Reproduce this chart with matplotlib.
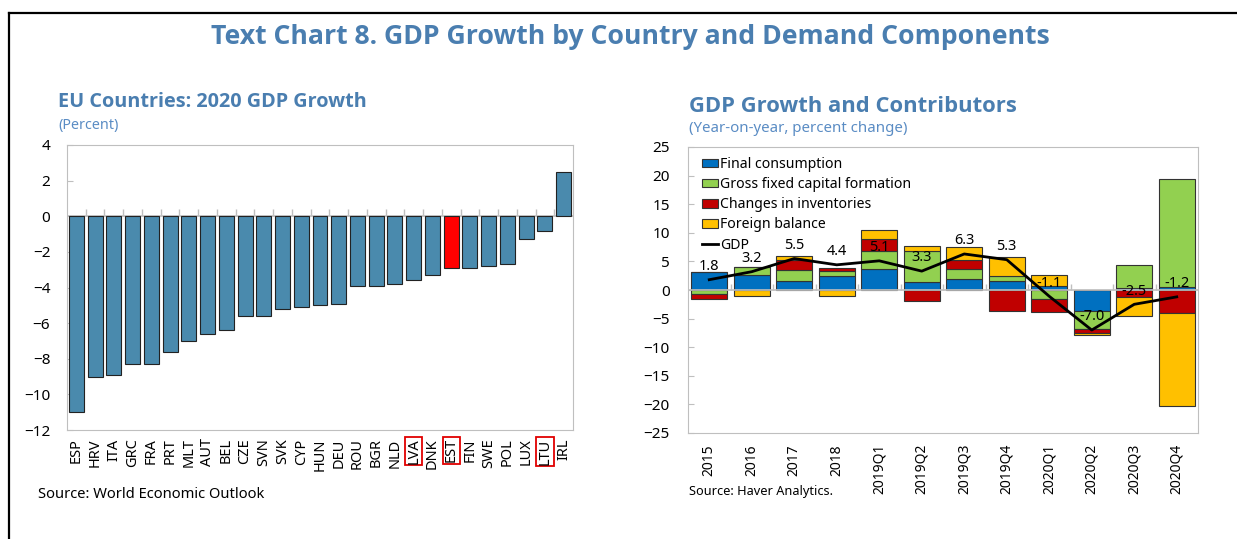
import numpy as np
import matplotlib
matplotlib.use("Agg")
import matplotlib.pyplot as plt
from matplotlib.lines import Line2D
from matplotlib.patches import Patch

plt.rcParams['font.family'] = ['Noto Sans', 'DejaVu Sans']
BOLD_FAMILY = ['Open Sans', 'DejaVu Sans']

# ---- data: left panel (2020 GDP growth, percent)
countries = ['ESP', 'HRV', 'ITA', 'GRC', 'FRA', 'PRT', 'MLT', 'AUT', 'BEL', 'CZE',
             'SVN', 'SVK', 'CYP', 'HUN', 'DEU', 'ROU', 'BGR', 'NLD', 'LVA', 'DNK',
             'EST', 'FIN', 'SWE', 'POL', 'LUX', 'LTU', 'IRL']
growth_2020 = [-11.0, -9.0, -8.9, -8.3, -8.3, -7.6, -7.0, -6.6, -6.4, -5.6,
               -5.6, -5.2, -5.1, -5.0, -4.9, -3.9, -3.9, -3.8, -3.6, -3.3,
               -2.9, -2.9, -2.8, -2.7, -1.3, -0.8, 2.5]
boxed = ['LVA', 'EST', 'LTU']
highlight = 'EST'

# ---- data: right panel (contributions, pp)
periods = ['2015', '2016', '2017', '2018', '2019Q1', '2019Q2', '2019Q3', '2019Q4',
           '2020Q1', '2020Q2', '2020Q3', '2020Q4']
final_consumption = [3.1, 2.7, 1.6, 2.4, 3.7, 1.4, 2.0, 1.6, 0.7, -3.7, 0.35, 0.45]
gross_fixed_capital = [-0.75, 1.4, 1.9, 0.9, 3.2, 5.5, 1.6, 0.9, -1.5, -3.1, 4.0, 18.9]
inventories = [-0.75, 0.0, 1.7, 0.6, 2.0, -2.0, 1.6, -3.7, -2.4, -0.7, -1.3, -4.0]
foreign_balance = [0.1, -1.05, 0.8, -1.05, 1.6, 0.75, 2.3, 3.3, 2.0, -0.3, -3.3, -16.2]
gdp = [1.8, 3.2, 5.5, 4.4, 5.1, 3.3, 6.3, 5.3, -1.1, -7.0, -2.5, -1.2]

components = [
    ('Final consumption', final_consumption, '#0070c0'),
    ('Gross fixed capital formation', gross_fixed_capital, '#92d050'),
    ('Changes in inventories', inventories, '#c00000'),
    ('Foreign balance', foreign_balance, '#ffc000'),
]

TITLE_BLUE = '#4a7eb0'
SUB_BLUE = '#5a8cc4'
FRAME_GREY = '#bfbfbf'

fig = plt.figure(figsize=(12.37, 5.39), dpi=100)
W, H = 1237, 539

def fx(px):
    return px / W

def fy(py):
    return 1 - py / H

# outer frame (top and left edges only)
fig.add_artist(Line2D([fx(9), 1.0], [fy(13), fy(13)], color='black', lw=1.6))
fig.add_artist(Line2D([fx(9), fx(9)], [fy(13), 0.0], color='black', lw=1.6))

fig.text(fx(630), fy(37), 'Text Chart 8. GDP Growth by Country and Demand Components',
         ha='center', va='center', fontsize=19.2, fontweight='bold', color=TITLE_BLUE,
         family=BOLD_FAMILY)

# ---------------- left panel
ax1 = fig.add_axes([fx(67), fy(430), fx(573 - 67), (430 - 145) / H])
x1 = np.arange(len(countries))
cols = ['#ff0000' if c == highlight else '#4a8aad' for c in countries]
ax1.bar(x1, growth_2020, width=0.8, color=cols, edgecolor='#222222', linewidth=0.8, zorder=2)
ax1.axhline(0, color=FRAME_GREY, lw=1.2, zorder=1)
ax1.plot(x1[:-1] + 0.5, np.zeros(len(x1) - 1), ls='none', marker=2, markersize=5,
         color=FRAME_GREY, zorder=1)
ax1.set_xlim(-0.5, len(countries) - 0.5)
ax1.set_ylim(-12, 4)
ax1.set_yticks(np.arange(-12, 5, 2))
ax1.set_xticks(x1)
ax1.set_xticklabels(countries, rotation=90, fontsize=10.5)
for lab in ax1.get_xticklabels():
    if lab.get_text() in boxed:
        lab.set_bbox(dict(facecolor='none', edgecolor='#e00000', linewidth=1.3, pad=0.8))
ax1.tick_params(axis='x', length=0, pad=6)
ax1.tick_params(axis='y', direction='in', length=4, color=FRAME_GREY, labelsize=11, pad=12)
for s in ax1.spines.values():
    s.set_color(FRAME_GREY)

fig.text(fx(58), fy(102), 'EU Countries: 2020 GDP Growth', ha='left', va='center',
         fontsize=14.3, fontweight='bold', color=TITLE_BLUE, family=BOLD_FAMILY)
fig.text(fx(58), fy(126), '(Percent)', ha='left', va='center', fontsize=10.3, color=SUB_BLUE)
fig.text(fx(38), fy(494), 'Source: World Economic Outlook', ha='left', va='center', fontsize=10.6)

# ---------------- right panel
ax2 = fig.add_axes([fx(688), fy(433), fx(1198 - 688), (433 - 147) / H])
x2 = np.arange(len(periods))
pos_base = np.zeros(len(periods))
neg_base = np.zeros(len(periods))
handles = []
for name, vals, col in components:
    v = np.array(vals)
    base = np.where(v >= 0, pos_base, neg_base)
    ax2.bar(x2, v, width=0.84, bottom=base, color=col, edgecolor='#333333', linewidth=0.8, zorder=2)
    pos_base = pos_base + np.where(v >= 0, v, 0)
    neg_base = neg_base + np.where(v < 0, v, 0)
    handles.append(Patch(facecolor=col, edgecolor='#333333', linewidth=0.8, label=name))
ax2.axhline(0, color=FRAME_GREY, lw=1.2, zorder=3)
ax2.plot(x2[:-1] + 0.5, np.zeros(len(x2) - 1), ls='none', marker=2, markersize=4,
         color=FRAME_GREY, zorder=3)
ax2.plot(x2, gdp, color='black', lw=2, zorder=4)
handles.append(Line2D([], [], color='black', lw=2, label='GDP'))
for xi, g in zip(x2, gdp):
    ax2.annotate(f'{g:.1f}', (xi, g), xytext=(0, 9.5), textcoords='offset points',
                 ha='center', va='center', fontsize=10.5, zorder=5)
ax2.set_xlim(-0.5, len(periods) - 0.5)
ax2.set_ylim(-25, 25)
ax2.set_yticks(np.arange(-25, 26, 5))
ax2.set_xticks(x2)
ax2.set_xticklabels(periods, rotation=90, fontsize=10)
ax2.tick_params(axis='x', length=0, pad=8)
ax2.tick_params(axis='y', direction='in', length=4, color=FRAME_GREY, labelsize=11, pad=13)
for s in ax2.spines.values():
    s.set_color(FRAME_GREY)
ax2.legend(handles=handles, loc='upper left', bbox_to_anchor=(0.01, 0.995), frameon=False,
           fontsize=10.1, handlelength=1.2, handleheight=0.57, handletextpad=0.1,
           labelspacing=0.37, borderaxespad=0.2)

fig.text(fx(689), fy(106), 'GDP Growth and Contributors', ha='left', va='center',
         fontsize=15.8, fontweight='bold', color=TITLE_BLUE, family=BOLD_FAMILY)
fig.text(fx(689), fy(128), '(Year-on-year, percent change)', ha='left', va='center',
         fontsize=10.8, color=SUB_BLUE)
fig.text(fx(689), fy(492), 'Source: Haver Analytics.', ha='left', va='center', fontsize=9.2)

fig.savefig('out.png', dpi=100)
